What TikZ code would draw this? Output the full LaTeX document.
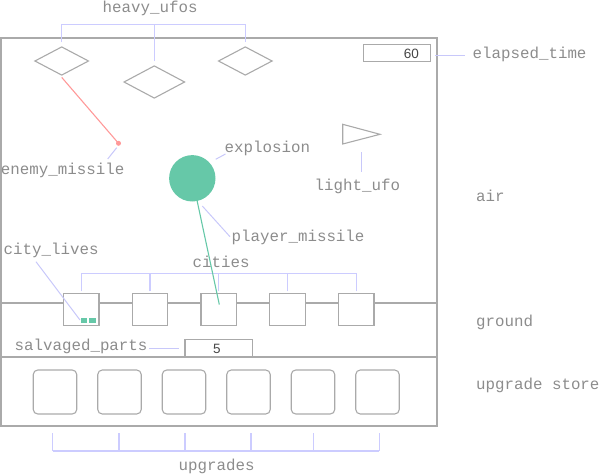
\documentclass[tikz,border=0pt]{standalone}
\usepackage{fontspec}
\setmonofont{Liberation Mono}
\newfontfamily\numfont{Liberation Sans}
\usetikzlibrary{shapes.geometric}
\definecolor{framegray}{RGB}{170,170,170}
\definecolor{labelgray}{RGB}{140,140,140}
\definecolor{numgray}{RGB}{70,70,70}
\definecolor{bracketblue}{RGB}{204,204,255}
\definecolor{leaderblue}{RGB}{200,200,250}
\definecolor{mint}{RGB}{102,200,168}
\definecolor{enemypink}{RGB}{255,153,153}

\begin{document}
\begin{tikzpicture}[x=1pt,y=-1pt,
  lbl/.style={font=\fontsize{15.8}{18}\selectfont\ttfamily, text=labelgray, inner sep=0pt, anchor=base west},
  num/.style={font=\fontsize{13.5}{16}\selectfont\numfont, text=numgray, inner sep=0pt},
  outline/.style={draw=framegray, line width=1.5pt},
  thin/.style={draw=framegray, line width=1.1pt},
  ufo/.style={diamond, thin, inner sep=0pt},
  citybox/.style={rectangle, thin, fill=white, inner sep=0pt, minimum width=35.5pt, minimum height=32.4pt},
  upbox/.style={rectangle, thin, rounded corners=4.5pt, inner sep=0pt, minimum width=43.5pt, minimum height=44pt},
  readout/.style={rectangle, thin, fill=white, inner sep=0pt},
  bracket/.style={draw=bracketblue, line width=1.4pt},
  leader/.style={draw=leaderblue, line width=1pt}]
\useasboundingbox (0,0) rectangle (600,474);

% playfield frame and region dividers
\node[outline, rectangle, inner sep=0pt, minimum width=436pt, minimum height=387.7pt] (frame) at (219,232) {};
\coordinate (groundy) at (0,303);
\coordinate (storey) at (0,356.7);
\draw[outline] (frame.west |- groundy) -- (frame.east |- groundy);
\draw[draw=framegray, line width=2pt] (frame.west |- storey) -- (frame.east |- storey);

% region names
\node[lbl] (air) at (476,201.7) {air};
\node[lbl] (ground) at (476,326) {ground};
\node[lbl] (store) at (476,389.7) {upgrade store};

% heavy ufos
\node[ufo, minimum width=54pt, minimum height=28.6pt] (h1) at (61.7,61) {};
\node[ufo, minimum width=61pt, minimum height=32.6pt] (h2) at (154.3,82) {};
\node[ufo, minimum width=54pt, minimum height=28.6pt] (h3) at (245.3,61) {};
\node[lbl] (heavy) at (102.5,12) {heavy\_ufos};
\coordinate (hb) at (0,24.3);
\draw[bracket] (h1.north |- hb) -- (h3.north |- hb);
\foreach \i in {1,2,3} \draw[bracket] ([yshift=4pt]h\i.north) -- (h\i.north |- hb);

% light ufo
\draw[thin] (342.7,124.3) coordinate (lu1) -- (342.7,144) -- (380,134.3) -- cycle;
\node[lbl] (light) at (314.5,190) {light\_ufo};
\coordinate (lla) at (361.3,152.3);
\coordinate (llb) at (361.3,171.7);
\draw[leader] (lla) -- (llb);

% enemy missile
\coordinate (emtip) at (118.5,143.3);
\draw[draw=enemypink, line width=1.1pt] ([yshift=-1.5pt]h1.south) -- (emtip);
\fill[enemypink] (emtip) circle (2.5pt);
\node[lbl] (enemy) at (0.8,174) {enemy\_missile};
\coordinate (ema) at (116.7,147.7);
\coordinate (emb) at (107.7,159);
\draw[leader] (ema) -- (emb);

% explosion and player missile
\node[circle, fill=mint, inner sep=0pt, minimum size=46.4pt] (explosion) at (192.3,178.3) {};
\node[lbl] (explabel) at (224.5,152.3) {explosion};
\coordinate (exa) at (215.7,159.3);
\coordinate (exb) at (225.5,154);
\draw[leader] (exa) -- (exb);

% elapsed time readout
\node[readout, minimum width=67.4pt, minimum height=17pt] (timer) at (397,52.8) {};
\node[num, anchor=base east] (timeval) at (419,58.7) {60};
\node[lbl] (elapsed) at (472.5,58.3) {elapsed\_time};
\draw[leader] ([xshift=4pt]timer.east |- 0,55.7) -- (465,55.7) coordinate (eta);

% cities
\foreach \i in {1,...,5}
  \node[citybox] (c\i) at ({81.2+68.75*(\i-1)},309.5) {};
\node[lbl] (cities) at (192.5,267.3) {cities};
\coordinate (cb) at (0,273.3);
\draw[bracket] (c1.north |- cb) -- (c5.north |- cb);
\foreach \i in {1,...,5} \draw[bracket] ([yshift=1.5pt]c\i.north) -- (c\i.north |- cb);

% remaining lives of the first city
\fill[mint] (81.3,317.7) rectangle (87.3,322.9);
\fill[mint] (89.3,317.7) rectangle (95.5,322.9);
\node[lbl] (lives) at (3.5,254) {city\_lives};
\coordinate (cla) at (36,261.7);
\coordinate (clb) at (80,320);
\draw[leader] (cla) -- (clb);

% player missile heading for the middle city
\coordinate (pmtip) at (219.3,304.5);
\draw[draw=mint, line width=1.1pt] (explosion) -- (pmtip);
\node[lbl] (player) at (231.5,241.7) {player\_missile};
\coordinate (pma) at (202.3,206);
\coordinate (pmb) at (230,236.7);
\draw[leader] (pma) -- (pmb);

% salvaged parts readout
\node[readout, minimum width=67.3pt, minimum height=17.4pt] (salvage) at (218.6,348) {};
\node[num, anchor=base] (salvval) at (217,353.3) {5};
\node[lbl] (salvaged) at (14.5,350) {salvaged\_parts};
\draw[leader] (149.3,348.3) coordinate (spa) -- (179,348.3) coordinate (spb);

% upgrade slots
\foreach \i in {1,...,6}
  \node[upbox] (u\i) at ({55+64.5*(\i-1)},392) {};
\coordinate (ub) at (0,451);
\draw[bracket] (52.7,451) -- (379.3,451);
\foreach \x in {52.7,119,185,251,313.3,379.3} \draw[bracket] (\x,433.3) -- (\x,451);
\node[lbl] (upgrades) at (178.5,470.7) {upgrades};
\end{tikzpicture}
\end{document}
